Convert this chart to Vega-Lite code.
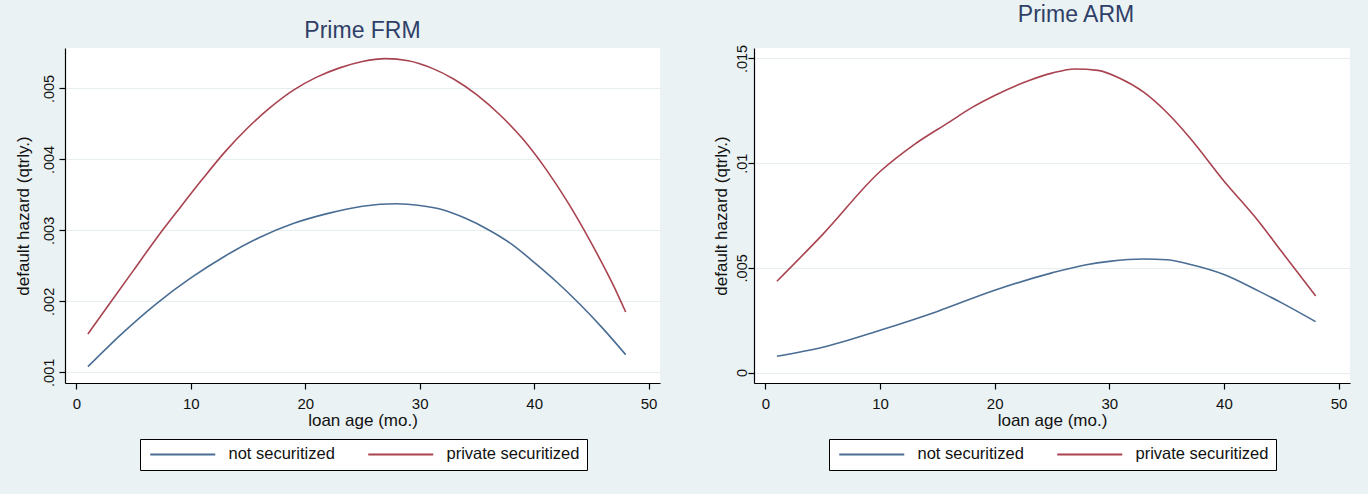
{
  "$schema": "https://vega.github.io/schema/vega-lite/v6.json",
  "background": "#EAF2F3",
  "padding": {"left": 14, "top": 4, "right": 18, "bottom": 25},
  "bounds": "flush",
  "spacing": 94,
  "datasets": {
    "hazard": [
      {"panel": "FRM", "series": "not securitized", "age": 1, "hazard": 0.00108},
      {"panel": "FRM", "series": "not securitized", "age": 4, "hazard": 0.00155},
      {"panel": "FRM", "series": "not securitized", "age": 7, "hazard": 0.00197},
      {"panel": "FRM", "series": "not securitized", "age": 10, "hazard": 0.00233},
      {"panel": "FRM", "series": "not securitized", "age": 13, "hazard": 0.00264},
      {"panel": "FRM", "series": "not securitized", "age": 16, "hazard": 0.00290},
      {"panel": "FRM", "series": "not securitized", "age": 19, "hazard": 0.00310},
      {"panel": "FRM", "series": "not securitized", "age": 22, "hazard": 0.00324},
      {"panel": "FRM", "series": "not securitized", "age": 25, "hazard": 0.00334},
      {"panel": "FRM", "series": "not securitized", "age": 28, "hazard": 0.003375},
      {"panel": "FRM", "series": "not securitized", "age": 30, "hazard": 0.00335},
      {"panel": "FRM", "series": "not securitized", "age": 32, "hazard": 0.00329},
      {"panel": "FRM", "series": "not securitized", "age": 34, "hazard": 0.00317},
      {"panel": "FRM", "series": "not securitized", "age": 36, "hazard": 0.00301},
      {"panel": "FRM", "series": "not securitized", "age": 38, "hazard": 0.00281},
      {"panel": "FRM", "series": "not securitized", "age": 40, "hazard": 0.00255},
      {"panel": "FRM", "series": "not securitized", "age": 42, "hazard": 0.00227},
      {"panel": "FRM", "series": "not securitized", "age": 44, "hazard": 0.00196},
      {"panel": "FRM", "series": "not securitized", "age": 46, "hazard": 0.00162},
      {"panel": "FRM", "series": "not securitized", "age": 48, "hazard": 0.00125},
      {"panel": "FRM", "series": "private securitized", "age": 1, "hazard": 0.00154},
      {"panel": "FRM", "series": "private securitized", "age": 3, "hazard": 0.00199},
      {"panel": "FRM", "series": "private securitized", "age": 5, "hazard": 0.00244},
      {"panel": "FRM", "series": "private securitized", "age": 7, "hazard": 0.00289},
      {"panel": "FRM", "series": "private securitized", "age": 9, "hazard": 0.00331},
      {"panel": "FRM", "series": "private securitized", "age": 11, "hazard": 0.00372},
      {"panel": "FRM", "series": "private securitized", "age": 13, "hazard": 0.00411},
      {"panel": "FRM", "series": "private securitized", "age": 15, "hazard": 0.00445},
      {"panel": "FRM", "series": "private securitized", "age": 17, "hazard": 0.00474},
      {"panel": "FRM", "series": "private securitized", "age": 19, "hazard": 0.00498},
      {"panel": "FRM", "series": "private securitized", "age": 21, "hazard": 0.00516},
      {"panel": "FRM", "series": "private securitized", "age": 23, "hazard": 0.00529},
      {"panel": "FRM", "series": "private securitized", "age": 25, "hazard": 0.00538},
      {"panel": "FRM", "series": "private securitized", "age": 27, "hazard": 0.00542},
      {"panel": "FRM", "series": "private securitized", "age": 29, "hazard": 0.00539},
      {"panel": "FRM", "series": "private securitized", "age": 31, "hazard": 0.00529},
      {"panel": "FRM", "series": "private securitized", "age": 33, "hazard": 0.00513},
      {"panel": "FRM", "series": "private securitized", "age": 35, "hazard": 0.00491},
      {"panel": "FRM", "series": "private securitized", "age": 37, "hazard": 0.00463},
      {"panel": "FRM", "series": "private securitized", "age": 39, "hazard": 0.00429},
      {"panel": "FRM", "series": "private securitized", "age": 41, "hazard": 0.00387},
      {"panel": "FRM", "series": "private securitized", "age": 43, "hazard": 0.00338},
      {"panel": "FRM", "series": "private securitized", "age": 45, "hazard": 0.00282},
      {"panel": "FRM", "series": "private securitized", "age": 47, "hazard": 0.00220},
      {"panel": "FRM", "series": "private securitized", "age": 48, "hazard": 0.00185},
      {"panel": "ARM", "series": "not securitized", "age": 1, "hazard": 0.00078},
      {"panel": "ARM", "series": "not securitized", "age": 5, "hazard": 0.00121},
      {"panel": "ARM", "series": "not securitized", "age": 10, "hazard": 0.00202},
      {"panel": "ARM", "series": "not securitized", "age": 15, "hazard": 0.00292},
      {"panel": "ARM", "series": "not securitized", "age": 20, "hazard": 0.00393},
      {"panel": "ARM", "series": "not securitized", "age": 25, "hazard": 0.00476},
      {"panel": "ARM", "series": "not securitized", "age": 28, "hazard": 0.00515},
      {"panel": "ARM", "series": "not securitized", "age": 30, "hazard": 0.00531},
      {"panel": "ARM", "series": "not securitized", "age": 33, "hazard": 0.00542},
      {"panel": "ARM", "series": "not securitized", "age": 35, "hazard": 0.00539},
      {"panel": "ARM", "series": "not securitized", "age": 37, "hazard": 0.00517},
      {"panel": "ARM", "series": "not securitized", "age": 40, "hazard": 0.00468},
      {"panel": "ARM", "series": "not securitized", "age": 43, "hazard": 0.00390},
      {"panel": "ARM", "series": "not securitized", "age": 45, "hazard": 0.00334},
      {"panel": "ARM", "series": "not securitized", "age": 48, "hazard": 0.00243},
      {"panel": "ARM", "series": "private securitized", "age": 1, "hazard": 0.00436},
      {"panel": "ARM", "series": "private securitized", "age": 5, "hazard": 0.00660},
      {"panel": "ARM", "series": "private securitized", "age": 10, "hazard": 0.00960},
      {"panel": "ARM", "series": "private securitized", "age": 13, "hazard": 0.01090},
      {"panel": "ARM", "series": "private securitized", "age": 16, "hazard": 0.01195},
      {"panel": "ARM", "series": "private securitized", "age": 18, "hazard": 0.01265},
      {"panel": "ARM", "series": "private securitized", "age": 20, "hazard": 0.01323},
      {"panel": "ARM", "series": "private securitized", "age": 23, "hazard": 0.01395},
      {"panel": "ARM", "series": "private securitized", "age": 25, "hazard": 0.01430},
      {"panel": "ARM", "series": "private securitized", "age": 27, "hazard": 0.01450},
      {"panel": "ARM", "series": "private securitized", "age": 29, "hazard": 0.01443},
      {"panel": "ARM", "series": "private securitized", "age": 31, "hazard": 0.01403},
      {"panel": "ARM", "series": "private securitized", "age": 33, "hazard": 0.01339},
      {"panel": "ARM", "series": "private securitized", "age": 35, "hazard": 0.01243},
      {"panel": "ARM", "series": "private securitized", "age": 37, "hazard": 0.01123},
      {"panel": "ARM", "series": "private securitized", "age": 40, "hazard": 0.00915},
      {"panel": "ARM", "series": "private securitized", "age": 43, "hazard": 0.00724},
      {"panel": "ARM", "series": "private securitized", "age": 45, "hazard": 0.00580},
      {"panel": "ARM", "series": "private securitized", "age": 48, "hazard": 0.00366}
    ]
  },
  "hconcat": [
    {
      "width": 595,
      "height": 335,
      "data": {"name": "hazard"},
      "transform": [{"filter": "datum.panel == 'FRM'"}],
      "title": {"text": "Prime FRM", "offset": 5, "dx": 0},
      "mark": {"type": "line", "interpolate": "monotone", "strokeWidth": 1.6},
      "encoding": {
        "x": {
          "field": "age", "type": "quantitative",
          "scale": {"domain": [-1, 51], "nice": false, "zero": false},
          "axis": {"values": [0, 10, 20, 30, 40, 50], "title": "loan age (mo.)", "grid": false}
        },
        "y": {
          "field": "hazard", "type": "quantitative",
          "scale": {"domain": [0.00085, 0.00557], "nice": false, "zero": false},
          "axis": {
            "values": [0.001, 0.002, 0.003, 0.004, 0.005],
            "labelExpr": "substring(format(datum.value, '.3f'), 1)",
            "labelPadding": 6,
            "titlePadding": 8.5,
            "title": "default hazard (qtrly.)"
          }
        },
        "color": {
          "field": "series", "type": "nominal",
          "scale": {"domain": ["not securitized", "private securitized"], "range": ["#4a6d94", "#a8434f"]},
          "legend": {"legendX": 75, "legendY": 391}
        }
      }
    },
    {
      "width": 596,
      "height": 335,
      "data": {"name": "hazard"},
      "transform": [{"filter": "datum.panel == 'ARM'"}],
      "title": {"text": "Prime ARM", "offset": 17, "dx": 24},
      "mark": {"type": "line", "interpolate": "monotone", "strokeWidth": 1.6},
      "encoding": {
        "x": {
          "field": "age", "type": "quantitative",
          "scale": {"domain": [-1, 51], "nice": false, "zero": false},
          "axis": {"values": [0, 10, 20, 30, 40, 50], "title": "loan age (mo.)", "grid": false}
        },
        "y": {
          "field": "hazard", "type": "quantitative",
          "scale": {"domain": [-0.0005, 0.0155], "nice": false, "zero": false},
          "axis": {
            "values": [0, 0.005, 0.01, 0.015],
            "labelExpr": "datum.value == 0 ? '0' : substring(format(datum.value, '.3~f'), 1)",
            "labelPadding": 2,
            "titlePadding": 4,
            "title": "default hazard (qtrly.)"
          }
        },
        "color": {
          "field": "series", "type": "nominal",
          "scale": {"domain": ["not securitized", "private securitized"], "range": ["#4a6d94", "#a8434f"]},
          "legend": {"legendX": 75, "legendY": 391}
        }
      }
    }
  ],
  "resolve": {"scale": {"color": "independent"}, "legend": {"color": "independent"}},
  "config": {
    "font": "Liberation Sans",
    "view": {"fill": "white", "stroke": null},
    "title": {
      "fontSize": 23, "fontWeight": "normal", "color": "#2f3f68",
      "anchor": "middle", "baseline": "alphabetic", "frame": "group"
    },
    "axis": {
      "domainColor": "#000000", "domainWidth": 1.2,
      "tickColor": "#000000", "tickSize": 6, "tickWidth": 1.2,
      "labelColor": "#111111", "labelFontSize": 15,
      "titleColor": "#111111", "titleFontSize": 17, "titleFontWeight": "normal",
      "gridColor": "#e6eef0", "gridWidth": 1
    },
    "axisX": {"labelPadding": 7, "titlePadding": 1},
    "axisY": {
      "labelAngle": -90, "labelAlign": "center", "labelBaseline": "alphabetic",
      "labelFontSize": 14.5, "grid": true
    },
    "legend": {
      "orient": "none", "direction": "horizontal", "title": null,
      "strokeColor": "#000000", "fillColor": "white", "padding": 7, "cornerRadius": 0,
      "symbolType": "M-1,0H12", "symbolSize": 100, "symbolStrokeWidth": 2,
      "labelOffset": 65, "labelFontSize": 16.5, "labelColor": "#111111", "labelLimit": 0,
      "columnPadding": 29
    }
  }
}
